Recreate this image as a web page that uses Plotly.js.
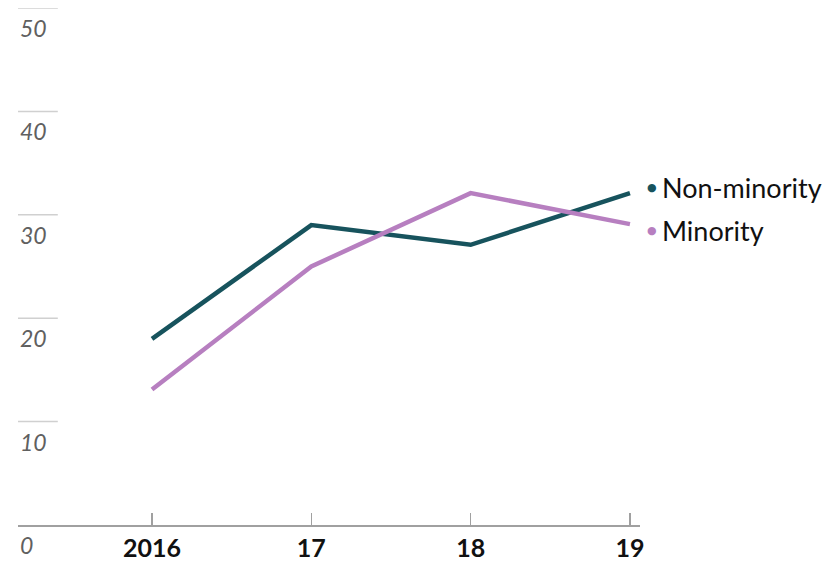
<!DOCTYPE html>
<html>
<head>
<meta charset="utf-8">
<script src="https://cdn.plot.ly/plotly-3.0.1.min.js"></script>
<style>html,body{margin:0;padding:0;background:#fff;}#chart{width:839px;height:561px;}</style>
</head>
<body>
<div id="chart"></div>
<script>
const years = [2016, 2017, 2018, 2019];
const yearLabels = ['2016', '17', '18', '19'];
const nonMinority = [18.0, 29.0, 27.1, 32.1];
const minority = [13.1, 25.0, 32.1, 29.1];
const yTicks = [0, 10, 20, 30, 40, 50];
const seriesNames = ['Non-minority', 'Minority'];
const seriesColors = ['#17535d', '#b77fc0'];

const FONT = 'Lato, "Source Sans Pro", "Open Sans", sans-serif';

const traces = [
  {x: years, y: nonMinority, name: seriesNames[0], mode: 'lines',
   line: {color: seriesColors[0], width: 4.5}, hoverinfo: 'skip'},
  {x: years, y: minority, name: seriesNames[1], mode: 'lines',
   line: {color: seriesColors[1], width: 4.5}, hoverinfo: 'skip'}
];

const shapes = yTicks.filter(v => v > 0).map(v => ({
  type: 'line', xref: 'paper', yref: 'y', x0: 0, x1: 0.064, y0: v, y1: v,
  line: {color: '#d0d0d0', width: 1.5}
}));

const annotations = yTicks.map(v => ({
  xref: 'paper', yref: 'y', x: 0, y: v, xanchor: 'left', yanchor: 'top',
  yshift: v === 0 ? -4 : -4, showarrow: false, text: '<i>' + v + '</i>',
  font: {family: FONT, size: 23, color: '#606060'}
}));

const lastVals = [nonMinority[3], minority[3]];
const labelShift = [6, -6];
seriesNames.forEach((n, i) => {
  annotations.push({
    xref: 'x', yref: 'y', x: years[3], y: lastVals[i], xanchor: 'center', yanchor: 'middle',
    xshift: 22, yshift: labelShift[i], showarrow: false, text: '●',
    font: {family: 'DejaVu Sans', size: 11, color: seriesColors[i]}
  });
  annotations.push({
    xref: 'x', yref: 'y', x: years[3], y: lastVals[i], xanchor: 'left', yanchor: 'middle',
    xshift: 30, yshift: labelShift[i], showarrow: false, text: n,
    font: {family: FONT, size: 27, color: '#111'}
  });
});

const layout = {
  width: 839, height: 561,
  margin: {l: 18, r: 199, t: 8, b: 36},
  paper_bgcolor: '#fff', plot_bgcolor: '#fff',
  showlegend: false,
  xaxis: {
    range: [2015.159, 2019.063], tickvals: years, ticktext: yearLabels,
    showgrid: false, zeroline: false, showline: true, linecolor: '#a0a0a0', linewidth: 1.5,
    ticks: 'inside', ticklen: 12, tickwidth: 1.5, tickcolor: '#a0a0a0',
    tickfont: {family: FONT, size: 25, color: '#111', weight: 'bold'}
  },
  yaxis: {
    range: [0, 50], showgrid: false, zeroline: false, showline: false,
    showticklabels: false, ticks: ''
  },
  shapes: shapes,
  annotations: annotations
};

Plotly.newPlot('chart', traces, layout, {staticPlot: true});
</script>
</body>
</html>
